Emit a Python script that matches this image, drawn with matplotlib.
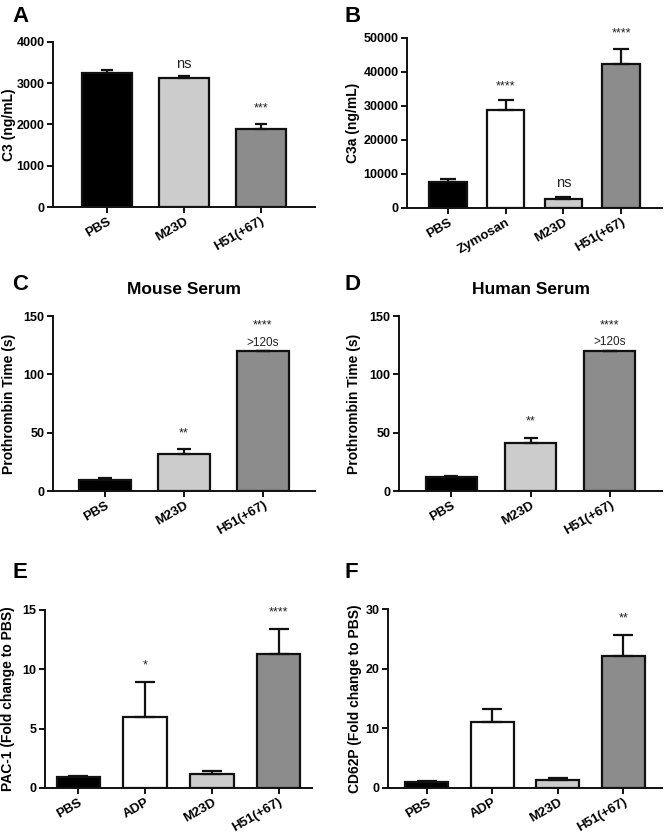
import matplotlib
matplotlib.use("Agg")
import matplotlib.pyplot as plt
import numpy as np

plt.rcParams['font.family'] = ['Liberation Sans', 'DejaVu Sans']
plt.rcParams['font.weight'] = 'bold'

BLACK = "#000000"
LIGHT = "#cccccc"
DARK = "#8c8c8c"
WHITE = "#ffffff"

# panel A
a_groups = ["PBS", "M23D", "H51(+67)"]
a_means = [3248, 3127, 1899]
a_errs = [65, 57, 105]
a_colors = [BLACK, LIGHT, DARK]
a_marks = ["", "ns", "***"]
a_mark_y = [0, 3470, 2400]

# panel B
b_groups = ["PBS", "Zymosan", "M23D", "H51(+67)"]
b_means = [7650, 28900, 2550, 42250]
b_errs = [880, 2770, 690, 4610]
b_colors = [BLACK, WHITE, LIGHT, DARK]
b_marks = ["", "****", "ns", "****"]
b_mark_y = [0, 35800, 7300, 51400]

# panel C
c_groups = ["PBS", "M23D", "H51(+67)"]
c_means = [9.7, 31.8, 120]
c_errs = [1.2, 4.2, 0]
c_colors = [BLACK, LIGHT, DARK]
c_marks = ["", "**", "****"]
c_mark_y = [0, 49.5, 142]

# panel D
d_groups = ["PBS", "M23D", "H51(+67)"]
d_means = [11.7, 41.5, 120]
d_errs = [1.2, 4.0, 0]
d_colors = [BLACK, LIGHT, DARK]
d_marks = ["", "**", "****"]
d_mark_y = [0, 60, 142]

# panel E
e_groups = ["PBS", "ADP", "M23D", "H51(+67)"]
e_means = [0.95, 5.95, 1.15, 11.26]
e_errs = [0.09, 2.95, 0.31, 2.14]
e_colors = [BLACK, WHITE, LIGHT, DARK]
e_marks = ["", "*", "", "****"]
e_mark_y = [0, 10.3, 0, 14.8]

# panel F
f_groups = ["PBS", "ADP", "M23D", "H51(+67)"]
f_means = [0.95, 11.0, 1.34, 22.2]
f_errs = [0.28, 2.26, 0.39, 3.5]
f_colors = [BLACK, WHITE, LIGHT, DARK]
f_marks = ["", "", "", "**"]
f_mark_y = [0, 0, 0, 28.4]

W, H = 664, 836
fig = plt.figure(figsize=(W / 100, H / 100), dpi=100)


def make_axes(left, right, top, bottom):
    return fig.add_axes([left / W, 1 - bottom / H, (right - left) / W, (bottom - top) / H])


def draw_panel(ax, groups, means, errs, colors, marks, mark_y, ymax, ystep,
               ylabel, xpad, cap, label_x):
    x = np.arange(len(groups))
    ax.bar(x, means, width=0.65, color=colors, edgecolor="#111111", linewidth=1.6, zorder=2)
    ax.errorbar(x, means, yerr=[np.zeros(len(errs)), errs], fmt="none",
                ecolor="#111111", elinewidth=1.6, capsize=cap, capthick=1.6, zorder=3)
    for xi, m, my in zip(x, marks, mark_y):
        if m:
            ax.text(xi, my, m, ha="center", va="center", fontsize=9 if m != "ns" else 10.5,
                    fontweight="normal", color="#222222", clip_on=False)
    ax.set_xlim(-xpad, len(groups) - 1 + xpad)
    ax.set_ylim(0, ymax)
    ax.set_yticks(np.arange(0, ymax + ystep / 2, ystep))
    ax.set_xticks(x)
    ax.set_xticklabels(groups, rotation=30, ha="right", rotation_mode="anchor", fontsize=9.5)
    for t in ax.get_yticklabels():
        t.set_fontsize(9)
    ax.set_ylabel(ylabel, fontsize=10, fontweight="bold")
    # place label using pixel position
    pos = ax.get_position()
    ax_left = pos.x0 * W
    ax_w = pos.width * W
    ax.yaxis.set_label_coords((label_x + 4 - ax_left) / ax_w, 0.5)
    for s in ["top", "right"]:
        ax.spines[s].set_visible(False)
    for s in ["left", "bottom"]:
        ax.spines[s].set_linewidth(1.4)
        ax.spines[s].set_color("#111111")
    ax.tick_params(direction="out", length=4, width=1.4, color="#111111", pad=2)


axA = make_axes(53, 315, 42, 207)
draw_panel(axA, a_groups, a_means, a_errs, a_colors, a_marks, a_mark_y, 4000, 1000,
           "C3 (ng/mL)", 0.71, 4.5, 12)

axB = make_axes(407, 662, 38, 208)
draw_panel(axB, b_groups, b_means, b_errs, b_colors, b_marks, b_mark_y, 50000, 10000,
           "C3a (ng/mL)", 0.71, 6, 356)

axC = make_axes(53, 315, 316, 491)
draw_panel(axC, c_groups, c_means, c_errs, c_colors, c_marks, c_mark_y, 150, 50,
           "Prothrombin Time (s)", 0.66, 5, 12)
axC.text(2, 127, ">120s", ha="center", va="center", fontsize=8.5, fontweight="normal", color="#222222")
axC.set_title("Mouse Serum", fontsize=12.5, fontweight="bold", pad=16)

axD = make_axes(399, 662, 316, 491)
draw_panel(axD, d_groups, d_means, d_errs, d_colors, d_marks, d_mark_y, 150, 50,
           "Prothrombin Time (s)", 0.66, 5, 357)
axD.text(2, 128, ">120s", ha="center", va="center", fontsize=8.5, fontweight="normal", color="#222222")
axD.set_title("Human Serum", fontsize=12.5, fontweight="bold", pad=16)

axE = make_axes(45, 312, 610, 788)
draw_panel(axE, e_groups, e_means, e_errs, e_colors, e_marks, e_mark_y, 15, 5,
           "PAC-1 (Fold change to PBS)", 0.5, 7.5, 11)

axF = make_axes(388, 662, 609, 788)
draw_panel(axF, f_groups, f_means, f_errs, f_colors, f_marks, f_mark_y, 30, 10,
           "CD62P (Fold change to PBS)", 0.59, 7.5, 358)

for lab, px, py in [("A", 12, 16), ("B", 345, 16), ("C", 12, 284), ("D", 345, 284),
                    ("E", 12, 572), ("F", 345, 572)]:
    fig.text(px / W, 1 - py / H, lab, fontsize=16, fontweight="bold", ha="left", va="center")

fig.savefig("out.png", dpi=100)
